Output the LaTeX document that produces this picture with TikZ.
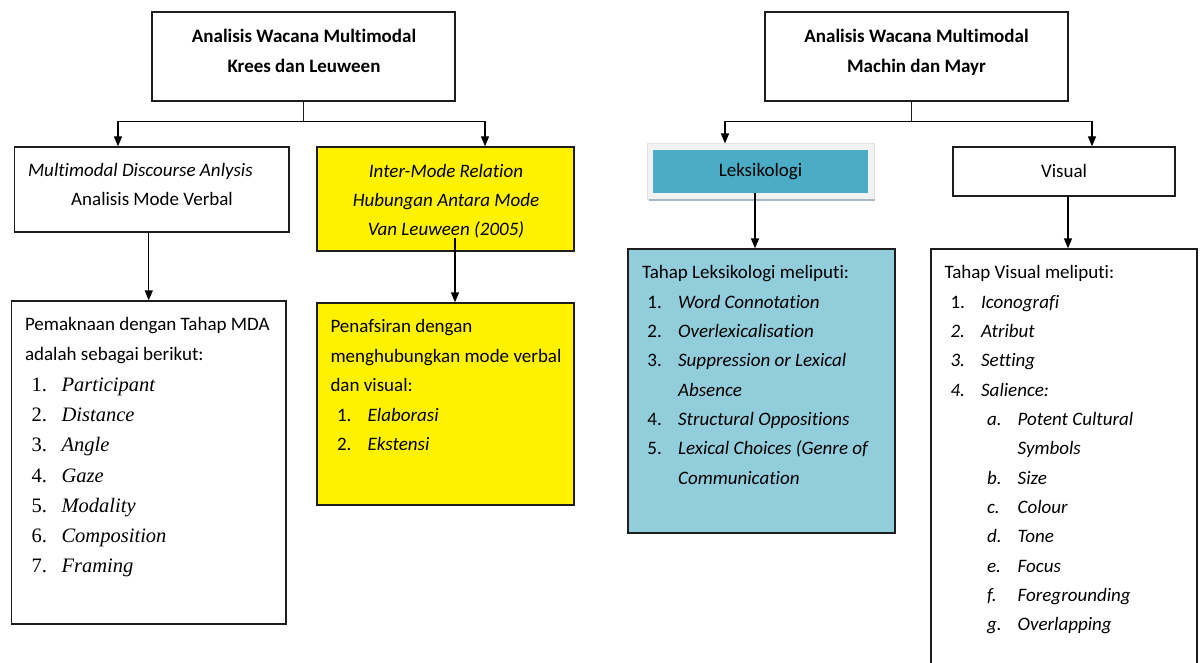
\documentclass[tikz,border=0pt]{standalone}
\usepackage{fontspec}
\setmainfont[Ligatures=NoCommon]{Carlito}
\newfontfamily\timesfont{Liberation Serif}
\usetikzlibrary{arrows.meta}

\definecolor{tealhead}{RGB}{75,172,198}
\definecolor{teallist}{RGB}{146,205,220}
\definecolor{framegray}{RGB}{242,242,242}
\definecolor{shadowgray}{RGB}{170,184,198}
\definecolor{boxline}{RGB}{30,30,30}

\newcommand{\numitem}[3]{\hspace*{#1}\makebox[23pt][l]{#2}\textit{#3}}
\newcommand{\mdaitem}[2]{\hspace*{4.9pt}{\timesfont\fontsize{15.4}{22.7}\selectfont\makebox[22.5pt][l]{#1}\textit{#2}}}

\tikzset{every picture/.style={line width=0.75pt}}
\tikzset{
  framebox/.style={draw=boxline, line width=1pt, inner sep=0pt},
  txt/.style={inner sep=0pt, align=left, font=\fontsize{14.25}{22}\selectfont},
  arrowline/.style={draw=black, line width=1pt, -{Triangle[length=7.5pt,width=6pt]}},
  stemline/.style={draw=boxline, line width=0.8pt}
}

\begin{document}
\begin{tikzpicture}[x=0.75pt,y=0.75pt,yscale=-1,xscale=1]
\useasboundingbox (0,0) rectangle (1203,663);

%Box: Krees dan Leuween
\node[framebox, minimum width=227.25pt, minimum height=66.75pt] (kreesbox) at (303.5,56.5) {};
%Box: Multimodal Discourse Anlysis
\node[framebox, minimum width=205.9pt, minimum height=63.75pt] (mdabox) at (151.75,189.5) {};
%Box: Inter-Mode Relation
\node[framebox, fill=yellow, minimum width=192.75pt, minimum height=78pt] (relbox) at (445.5,199) {};
%Box: Tahap MDA
\node[framebox, minimum width=205.9pt, minimum height=242.25pt] (mdalist) at (148.75,462.5) {};
%Box: Penafsiran
\node[framebox, fill=yellow, minimum width=192.75pt, minimum height=151.5pt] (rellist) at (445.5,404) {};

%Box: Machin dan Mayr
\node[framebox, minimum width=227.25pt, minimum height=66.75pt] (machinbox) at (916.5,56.5) {};
%Box: Leksikologi
\node[draw={rgb,255:red,226;green,226;blue,226}, fill=framegray, inner sep=0pt, minimum width=170.25pt, minimum height=42pt] (leksframe) at (760.5,172) {};
\draw[shadowgray, line width=1.5pt] ([xshift=2pt]leksframe.south west) -- (leksframe.south east);
\node[fill=tealhead, inner sep=0pt, minimum width=161.25pt, minimum height=32.25pt] (leksbox) at (760.5,171.5) {};
%Box: Visual
\node[framebox, minimum width=166.5pt, minimum height=36.75pt] (visualbox) at (1064,171.5) {};
%Box: Tahap Leksikologi
\node[framebox, fill=teallist, minimum width=200.25pt, minimum height=213pt] (lekslist) at (761.5,391) {};
%Box: Tahap Visual
\node[framebox, minimum width=199.5pt, minimum height=330.75pt] (visuallist) at (1064,469.5) {};

%Connectors left
\draw[stemline] (kreesbox.south) -- ++(0,20) coordinate (kreesfork);
\draw[arrowline] (kreesfork) -| ([shift={(-33.75,0)}]mdabox.north);
\draw[arrowline] (kreesfork) -| ([shift={(39.5,0)}]relbox.north);
\draw[arrowline] (mdabox.south -| mdalist.north) -- (mdalist.north);
\draw[arrowline] ([shift={(9.5,-14)}]relbox.south) -- ([shift={(9.5,0)}]rellist.north);

%Connectors right
\draw[stemline] ([shift={(-5,0)}]machinbox.south) -- ++(0,20) coordinate (machinfork);
\draw[arrowline] (machinfork) -| ([shift={(-35.5,0)}]leksframe.north);
\draw[arrowline] (machinfork) -| ([shift={(28,0)}]visualbox.north);
\draw[arrowline] ([shift={(-5.5,0)}]leksbox.south) -- ([shift={(-6.5,0)}]lekslist.north);
\draw[arrowline] ([shift={(4,0)}]visualbox.south) -- ([shift={(4,0)}]visuallist.north);

% Text Node
\node[txt, align=center, anchor=north, font=\bfseries\fontsize{14.25}{22.5}\selectfont] (kreestext) at (304,29) {Analisis Wacana Multimodal\\Krees dan Leuween};
% Text Node
\node[txt, anchor=north west, font=\fontsize{14.25}{21.75}\selectfont] (mdatext) at (27.5,163) {\textit{Multimodal Discourse Anlysis}\\\hspace*{32.4pt}Analisis Mode Verbal};
% Text Node
\node[txt, align=center, anchor=north, font=\itshape\fontsize{14.25}{21.75}\selectfont] (reltext) at (446,164) {Inter-Mode Relation\\Hubungan Antara Mode\\Van Leuween (2005)};
% Text Node
\node[txt, anchor=north west, font=\fontsize{14.25}{22.7}\selectfont] (mdalisttext) at (24.5,317) {Pemaknaan dengan Tahap MDA\\adalah sebagai berikut:\\
\mdaitem{1.}{Participant}\\\mdaitem{2.}{Distance}\\\mdaitem{3.}{Angle}\\\mdaitem{4.}{Gaze}\\
\mdaitem{5.}{Modality}\\\mdaitem{6.}{Composition}\\\mdaitem{7.}{Framing}};
% Text Node
\node[txt, anchor=north west, font=\fontsize{14.25}{22.1}\selectfont] (rellisttext) at (330,319) {Penafsiran dengan\\menghubungkan mode verbal\\dan visual:\\
\numitem{4.9pt}{1.}{Elaborasi}\\\numitem{4.9pt}{2.}{Ekstensi}};

% Text Node
\node[txt, align=center, anchor=north, font=\bfseries\fontsize{14.25}{22.5}\selectfont] (machintext) at (916.5,29) {Analisis Wacana Multimodal\\Machin dan Mayr};
% Text Node
\node[txt] (lekstext) at (760.5,172) {Leksikologi};
% Text Node
\node[txt] (visualtext) at (1064,171) {Visual};
% Text Node
\node[txt, anchor=north west] (lekslisttext) at (641.5,265) {Tahap Leksikologi meliputi:\\
\numitem{4.1pt}{1.}{Word Connotation}\\
\numitem{4.1pt}{2.}{Overlexicalisation}\\
\numitem{4.1pt}{3.}{Suppression or Lexical}\\
\hspace*{27.1pt}\textit{Absence}\\
\numitem{4.1pt}{4.}{Structural Oppositions}\\
\numitem{4.1pt}{5.}{Lexical Choices (Genre of}\\
\hspace*{27.1pt}\textit{Communication}};
% Text Node
\node[txt, anchor=north west] (visuallisttext) at (944,265) {Tahap Visual meliputi:\\
\numitem{4.5pt}{1.}{Iconografi}\\
\numitem{4.5pt}{\textit{2.}}{Atribut}\\
\numitem{4.5pt}{\textit{3.}}{Setting}\\
\numitem{4.5pt}{\textit{4.}}{Salience:}\\
\numitem{31.9pt}{\textit{a.}}{Potent Cultural}\\
\hspace*{54.9pt}\textit{Symbols}\\
\numitem{31.9pt}{\textit{b.}}{Size}\\
\numitem{31.9pt}{\textit{c.}}{Colour}\\
\numitem{31.9pt}{\textit{d.}}{Tone}\\
\numitem{31.9pt}{\textit{e.}}{Focus}\\
\numitem{31.9pt}{\textit{f.}}{Foregrounding}\\
\numitem{31.9pt}{\textit{g.}}{Overlapping}};

\end{tikzpicture}
\end{document}
